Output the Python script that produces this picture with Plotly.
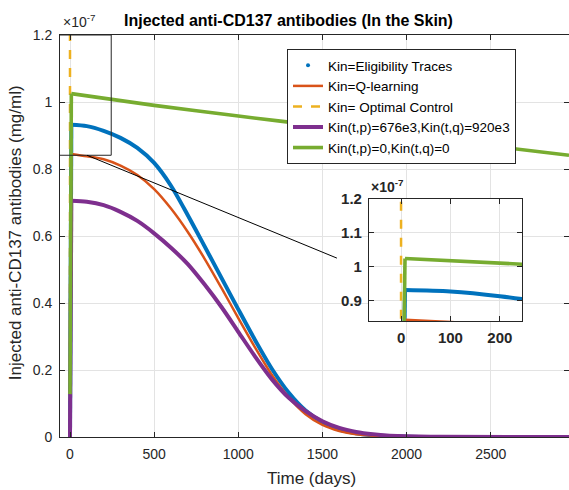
import plotly.graph_objects as go

FONT = "Liberation Sans, Arial, sans-serif"
AXIS_COLOR = "#262626"
GRID_COLOR = "#e3e3e3"

# Concentrations are stored in units of 1e-7 mg/ml (the axes show x10^-7)

# Kin = Eligibility Traces
t_elig = [0, 8, 100, 200, 300, 400, 500, 600, 700, 800, 900, 1000, 1100, 1200, 1300, 1400,
          1500, 1600, 1700, 1800, 2000, 2965]
c_elig = [0, 0.932, 0.928, 0.914, 0.893, 0.863, 0.818, 0.750, 0.662, 0.569, 0.475, 0.381,
          0.289, 0.203, 0.132, 0.079, 0.044, 0.022, 0.011, 0.005, 0.001, 0.0]

# Kin = Q-learning
t_qlearn = [0, 8, 100, 200, 300, 400, 500, 600, 700, 800, 900, 1000, 1100, 1200, 1300, 1400,
            1500, 1600, 1700, 1800, 2000, 2965]
c_qlearn = [0, 0.845, 0.838, 0.829, 0.810, 0.782, 0.740, 0.682, 0.612, 0.532, 0.445, 0.355,
            0.267, 0.185, 0.118, 0.068, 0.036, 0.018, 0.008, 0.004, 0.001, 0.0]

# Kin = Optimal Control (single impulse at t = 0)
t_optimal = [0, 0]
c_optimal = [0, 1.3]

# Kin(t,p)=676e3, Kin(t,q)=920e3
t_fixed = [0, 8, 100, 200, 300, 400, 500, 600, 700, 800, 900, 1000, 1100, 1200, 1300, 1400,
           1500, 1600, 1700, 1800, 1900, 2000, 2200, 2965]
c_fixed = [0, 0.705, 0.702, 0.692, 0.672, 0.645, 0.608, 0.565, 0.516, 0.455, 0.388, 0.314,
           0.240, 0.172, 0.117, 0.077, 0.047, 0.027, 0.015, 0.008, 0.004, 0.002, 0.0005, 0.0]

# Kin(t,p)=0, Kin(t,q)=0
t_zero = [0, 8, 500, 1000, 1500, 2000, 2500, 2965]
c_zero = [0.128, 1.025, 0.990, 0.958, 0.928, 0.898, 0.869, 0.841]

# Axis settings
main_x_range = [-59.4, 2965]
main_y_range = [0, 1.2]
main_x_ticks = [0, 500, 1000, 1500, 2000, 2500]
main_y_ticks = [0, 0.2, 0.4, 0.6, 0.8, 1.0, 1.2]
main_y_labels = ["0", "0.2", "0.4", "0.6", "0.8", "1", "1.2"]

zoom_x_range = [-65, 245]
zoom_y_range = [0.841, 1.2]
zoom_x_ticks = [0, 100, 200]
zoom_y_ticks = [0.9, 1.0, 1.1, 1.2]
zoom_y_labels = ["0.9", "1", "1.1", "1.2"]

BLUE = "#0072BD"
series = [
    ("Kin=Eligibility Traces", t_elig, c_elig, BLUE, 4.0, "solid"),
    ("Kin=Q-learning", t_qlearn, c_qlearn, "#D95319", 2.5, "solid"),
    ("Kin= Optimal Control", t_optimal, c_optimal, "#EDB120", 2.5, "dash"),
    ("Kin(t,p)=676e3,Kin(t,q)=920e3", t_fixed, c_fixed, "#7E2F8E", 4.0, "solid"),
    ("Kin(t,p)=0,Kin(t,q)=0", t_zero, c_zero, "#77AC30", 3.6, "solid"),
]

fig = go.Figure()

# legend entry for the dotted eligibility-traces series
fig.add_trace(go.Scatter(x=[None], y=[None], mode="markers", name="Kin=Eligibility Traces",
                         marker=dict(color=BLUE, size=4)))

for xa, ya, first in (("x", "y", True), ("x2", "y2", False)):
    for name, t, c, color, width, dash in series:
        in_legend = first and color != BLUE
        if len(t) > 2:
            # initial dose: straight rise, then smooth decay
            fig.add_trace(go.Scatter(x=t[:2], y=c[:2], mode="lines", showlegend=False,
                                     legendgroup=name, line=dict(color=color, width=width),
                                     xaxis=xa, yaxis=ya))
            fig.add_trace(go.Scatter(x=t[1:], y=c[1:], mode="lines", name=name,
                                     showlegend=in_legend, legendgroup=name,
                                     line=dict(color=color, width=width, dash=dash,
                                               shape="spline", smoothing=0.8),
                                     xaxis=xa, yaxis=ya))
        else:
            fig.add_trace(go.Scatter(x=t, y=c, mode="lines", name=name, showlegend=in_legend,
                                     line=dict(color=color, width=width, dash=dash),
                                     xaxis=xa, yaxis=ya))

axis_common = dict(showline=True, linecolor=AXIS_COLOR, linewidth=1, ticks="inside",
                   ticklen=5, tickcolor=AXIS_COLOR, showgrid=True, gridcolor=GRID_COLOR,
                   gridwidth=1, zeroline=False)

fig.update_layout(
    width=569, height=490,
    margin=dict(l=60, r=0, t=35, b=53),
    paper_bgcolor="white", plot_bgcolor="white",
    xaxis=dict(domain=[0, 1], range=main_x_range, tickvals=main_x_ticks, mirror="ticks",
               tickfont=dict(family=FONT, size=14, color=AXIS_COLOR), ticklabelstandoff=4,
               **axis_common),
    yaxis=dict(domain=[0, 1], range=main_y_range, tickvals=main_y_ticks, ticktext=main_y_labels,
               mirror="ticks", tickfont=dict(family=FONT, size=14, color=AXIS_COLOR),
               ticklabelstandoff=4, **axis_common),
    xaxis2=dict(domain=[0.607, 0.9077], range=zoom_x_range, tickvals=zoom_x_ticks, anchor="y2",
                mirror="ticks", tickfont=dict(family=FONT, size=15, color=AXIS_COLOR, weight="bold"),
                ticklabelstandoff=3, **axis_common),
    yaxis2=dict(domain=[0.2886, 0.592], range=zoom_y_range, tickvals=zoom_y_ticks,
                ticktext=zoom_y_labels, anchor="x2", mirror="ticks",
                tickfont=dict(family=FONT, size=15, color=AXIS_COLOR, weight="bold"),
                ticklabelstandoff=3, **axis_common),
    legend=dict(x=0.446, y=0.965, xanchor="left", yanchor="top", bgcolor="white",
                bordercolor=AXIS_COLOR, borderwidth=1, itemwidth=30, tracegroupgap=0,
                font=dict(family=FONT, size=13.5, color="black")),
)

# zoom window on the main axes and its connector to the inset
fig.add_shape(type="rect", xref="x", yref="y", x0=zoom_x_range[0], x1=zoom_x_range[1],
              y0=zoom_y_range[0], y1=zoom_y_range[1], line=dict(color=AXIS_COLOR, width=1),
              layer="above")
fig.add_shape(type="line", xref="x", yref="y", x0=101, y0=zoom_y_range[0], x1=1586, y1=0.534,
              line=dict(color="black", width=1), layer="above")

annotations = [
    dict(text="<b>Injected anti-CD137 antibodies (In the Skin)</b>", x=0.4499, y=1.0373,
         font=dict(family=FONT, size=16, color="black")),
    dict(text="Time (days)", x=0.495, y=-0.102, font=dict(family=FONT, size=17, color=AXIS_COLOR)),
    dict(text="Injected anti-CD137 antibodies (mg/ml)", x=-0.0884, y=0.507, textangle=-90,
         font=dict(family=FONT, size=17, color=AXIS_COLOR)),
    dict(text="\u00d710<sup>-7</sup>", x=0.002, y=1.008, xanchor="left", yanchor="bottom",
         font=dict(family=FONT, size=14, color=AXIS_COLOR)),
    dict(text="<b>\u00d710<sup>-7</sup></b>", x=0.607, y=0.597, xanchor="left", yanchor="bottom",
         font=dict(family=FONT, size=14, color=AXIS_COLOR)),
]
for a in annotations:
    a.setdefault("xanchor", "center")
    a.setdefault("yanchor", "middle")
    fig.add_annotation(xref="paper", yref="paper", showarrow=False, **a)

fig.write_html("out.html")
